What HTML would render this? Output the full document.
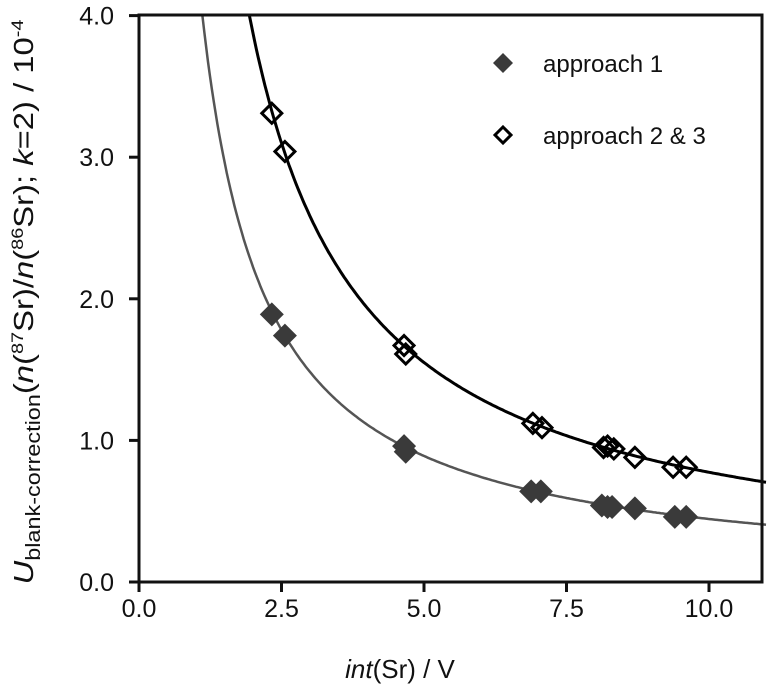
<!DOCTYPE html>
<html><head><meta charset="utf-8"><style>
body{margin:0;background:#fff;}
svg text{font-family:"Liberation Sans",sans-serif;fill:#111;}
</style></head><body>
<svg id="chart" width="767" height="693" viewBox="0 0 767 693" xmlns="http://www.w3.org/2000/svg">
<g id="curves"></g>
<g id="marks"></g>
<rect x="139" y="15" width="623" height="567" fill="none" stroke="#111" stroke-width="3"/>
<g id="axes"></g>
<text x="400" y="678" font-size="26" text-anchor="middle"><tspan font-style="italic">int</tspan>(Sr) / V</text>
<text transform="translate(33,302) rotate(-90)" font-size="28" text-anchor="middle" textLength="565" lengthAdjust="spacingAndGlyphs"><tspan font-style="italic">U</tspan><tspan font-size="20" dy="7">blank-correction</tspan><tspan dy="-7">(</tspan><tspan font-style="italic">n</tspan>(<tspan font-size="17" dy="-10">87</tspan><tspan dy="10">Sr)/</tspan><tspan font-style="italic">n</tspan>(<tspan font-size="17" dy="-10">86</tspan><tspan dy="10">Sr); </tspan><tspan font-style="italic">k</tspan>=2) / 10<tspan font-size="17" dy="-10">-4</tspan></text>
<g>
<polygon points="503,53 513,63 503,73 493,63" fill="#3a3a3a"/>
<text x="543" y="72" font-size="24">approach 1</text>
<polygon points="503,127 511,135 503,143 495,135" fill="#fff" stroke="#000" stroke-width="3"/>
<text x="543" y="144" font-size="24">approach 2 &amp; 3</text>
</g>
</svg>
<script>
const xTicks=[0,2.5,5,7.5,10];
const xTickLabels=["0.0","2.5","5.0","7.5","10.0"];
const yTicks=[0,1,2,3,4];
const yTickLabels=["0.0","1.0","2.0","3.0","4.0"];
const x1=[2.33,2.56,4.65,4.68,6.88,7.05,8.12,8.22,8.30,8.70,9.40,9.60];
const y1=[1.89,1.74,0.96,0.92,0.64,0.64,0.54,0.53,0.53,0.52,0.46,0.46];
const x2=[2.33,2.56,4.65,4.68,6.91,7.07,8.15,8.22,8.33,8.70,9.37,9.60];
const y2=[3.31,3.04,1.67,1.61,1.12,1.09,0.95,0.96,0.94,0.88,0.81,0.81];
const fitA=[4.45,7.75];
const NS="http://www.w3.org/2000/svg";
const X=v=>139+57*v, Y=v=>582-141.6*v;
function mk(t,a,p){const e=document.createElementNS(NS,t);for(const k in a)e.setAttribute(k,a[k]);p.appendChild(e);return e;}
const axes=document.getElementById('axes');
xTicks.forEach((t,i)=>{
 const l=mk('line',{x1:X(t),x2:X(t),y1:582,y2:592,stroke:'#111','stroke-width':3},axes);
 
 
 const tx=mk('text',{x:X(t),y:617,'font-size':25,'text-anchor':'middle'},axes);tx.textContent=xTickLabels[i];
 
 
});
yTicks.forEach((t,i)=>{
 const l=mk('line',{x1:129,x2:139,y1:Y(t),y2:Y(t),stroke:'#111','stroke-width':3},axes);
 
 
 const tx=mk('text',{x:114,y:Y(t)+9,'font-size':25,'text-anchor':'end'},axes);tx.textContent=yTickLabels[i];
 
 
});
const cg=document.getElementById('curves');
const cols=['#555','#000'];
fitA.forEach((a,i)=>{
 let d='';const x0=a/4;
 for(let k=0;k<=300;k++){const x=x0+(11-x0)*k/300;d+=(k?'L':'M')+X(x).toFixed(1)+','+Y(a/x).toFixed(1);}
 const p=mk('path',{d:d,fill:'none',stroke:cols[i],'stroke-width':i?3:2.5},cg);
 
 
});
const mg=document.getElementById('marks');
x1.forEach((x,i)=>{const cx=X(x),cy=Y(y1[i]),r=12;
 const p=mk('polygon',{points:`${cx},${cy-r} ${cx+r},${cy} ${cx},${cy+r} ${cx-r},${cy}`,fill:'#3a3a3a'},mg);
 
 
});
x2.forEach((x,i)=>{const cx=X(x),cy=Y(y2[i]),r=10;
 const p=mk('polygon',{points:`${cx},${cy-r} ${cx+r},${cy} ${cx},${cy+r} ${cx-r},${cy}`,fill:'none',stroke:'#000','stroke-width':3},mg);
 
 
});
</script>
</body></html>
